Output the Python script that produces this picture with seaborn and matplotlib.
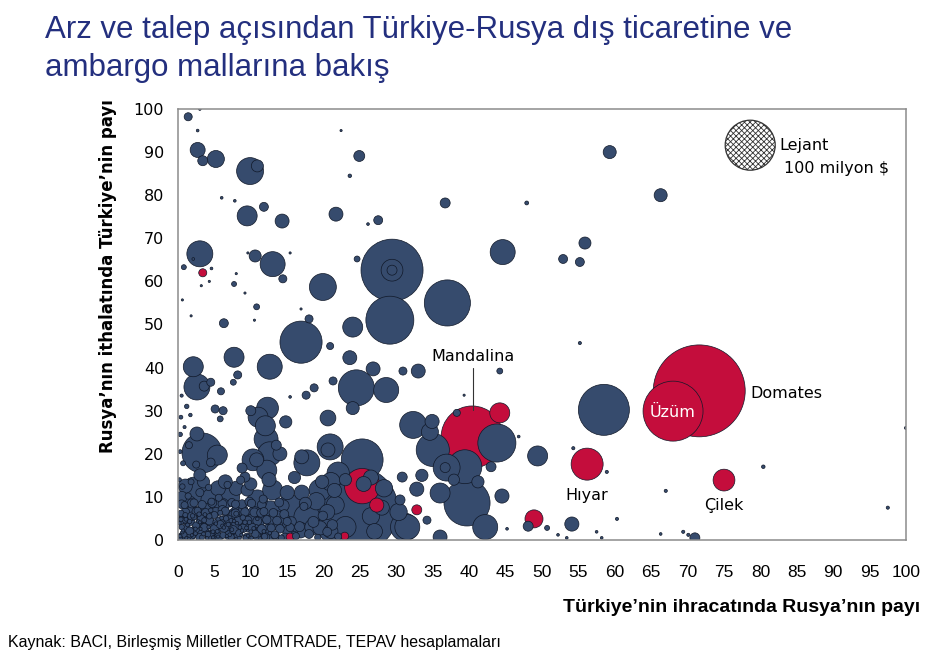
import matplotlib
matplotlib.use("Agg")
import matplotlib.pyplot as plt
import numpy as np
import pandas as pd
import seaborn as sns

# ------------------------------------------------------------
# Data: x = Turkey export share to Russia (%),
# y = Russia import share from Turkey (%), trade = bubble size (million $)
# ------------------------------------------------------------
# embargo goods (red)
embargo_x = [71.6, 68.0, 40.4, 56.2, 75.0, 44.2, 48.9, 25.3, 27.3, 32.8, 22.9, 15.4, 3.4]
embargo_y = [34.6, 29.9, 23.9, 17.6, 13.9, 29.5, 4.9, 12.5, 8.1, 7.0, 0.9, 0.7, 62.0]
embargo_trade = [338, 144, 154, 41, 19, 16, 13, 50, 8, 4, 2.5, 2.5, 2.6]

# other goods (navy) - large and medium bubbles
other_x = [
    58.5, 29.4, 29.4, 29.4, 29.1, 37.0, 16.9, 39.7, 43.8, 39.4, 35.0, 32.3, 34.6,
    36.9, 42.2, 44.5, 49.4, 48.1, 54.1, 71.0, 44.6, 59.3, 66.3, 55.9, 52.9, 55.2,
    36.7, 24.9, 24.3, 25.3, 3.3, 24.5, 28.6, 19.9, 13.0, 9.9, 10.9, 3.0, 12.6,
    7.7, 2.1, 2.6, 24.0, 17.7, 17.0, 20.6, 20.9, 31.1, 31.5, 30.5, 32.8, 30.8,
    12.1, 12.6, 11.0, 12.3, 12.0, 10.8, 14.0, 5.4, 10.3, 12.2, 2.3, 4.8, 7.1,
    10.9, 13.0, 15.4, 17.7, 8.1, 19.5, 21.6, 16.8, 19.5, 14.7, 12.6, 9.5, 14.3,
    21.7, 2.7, 5.2, 9.5, 23.6, 26.8, 24.0, 20.6, 33.0, 36.0, 34.2, 36.0, 1.4,
    3.4, 11.8, 27.5, 36.7, 6.3, 10.6, 14.4, 18.0, 10.8, 21.0, 22.0, 6.5, 9.2,
    3.0, 26.5, 28.3, 34.9, 37.9, 41.2, 43.0, 30.3, 23.0, 27.0, 25.5, 33.5,
]
other_y = [
    30.2, 62.6, 62.6, 62.6, 51.0, 55.0, 45.9, 8.6, 22.5, 17.0, 20.9, 26.7, 25.1,
    16.8, 3.0, 10.2, 19.5, 3.2, 3.7, 0.5, 66.8, 90.0, 80.0, 68.9, 65.2, 64.5,
    78.2, 89.1, 7.0, 18.6, 20.2, 35.3, 34.8, 58.7, 64.0, 85.6, 86.8, 66.4, 40.2,
    42.4, 40.2, 35.5, 49.4, 17.9, 19.3, 20.9, 21.6, 3.0, 3.0, 9.3, 11.8, 14.6,
    23.4, 20.0, 28.5, 30.6, 26.5, 18.6, 20.0, 19.7, 18.6, 16.2, 11.6, 9.3, 10.0,
    9.3, 11.6, 7.0, 5.3, 5.3, 11.6, 8.1, 2.3, 2.8, 4.2, 6.3, 11.6, 74.0,
    75.6, 90.5, 88.4, 75.2, 42.3, 39.7, 30.6, 28.3, 39.2, 0.7, 4.6, 10.9, 98.2,
    88.0, 77.3, 74.2, 16.8, 50.3, 65.9, 60.6, 51.3, 54.1, 13.5, 15.5, 13.5, 14.6,
    15.1, 14.5, 12.0, 27.5, 14.0, 13.5, 17.0, 6.5, 3.0, 2.0, 13.0, 15.0,
]
other_trade = [
    104, 154, 19, 4, 92, 85, 71, 85, 58, 46, 44, 29, 11.6,
    29, 25, 8, 16, 4, 8, 4, 25, 6.8, 6.8, 5.8, 3.2, 3.2,
    4, 4.8, 300, 70, 64, 52, 25, 29, 25, 29, 5.8, 27, 25,
    16, 16, 27, 16, 27, 7.8, 7.8, 27, 31, 25, 4, 8, 4,
    23, 23, 16, 19, 16, 7.8, 7.8, 16, 19, 16, 27, 23, 16,
    16, 16, 36, 27, 16, 19, 13, 10, 8, 8, 23, 6, 7.8,
    7.8, 9, 11.6, 16, 7.8, 7.8, 6.8, 10, 7.8, 7.8, 2.6, 16, 2.6,
    4, 3.2, 3.2, 4, 3.2, 5.8, 2.6, 2.6, 1.4, 14, 20, 7.8, 4,
    5.8, 9, 12, 8, 5, 6, 4, 12, 18, 10, 9, 6,
]

# other goods (navy) - the crowded low-share corner
fill_x = [
    1.5, 3.5, 6.0, 8.5, 10.5, 13.5, 15.5, 18.5, 20.5, 21.5, 19.0, 17.0, 15.0, 9.0,
    6.0, 3.0, 1.0, 11.0, 13.0, 4.5, 7.5, 1.0, 3.5, 5.5, 8.0, 10.0, 12.5, 0.5,
    2.0, 16.0, 23.0, 21.0, 17.5, 14.5, 19.8, 26.5, 28.0, 0.3, 0.7, 1.3, 1.9,
    2.4, 3.0, 3.5, 4.2, 4.8, 5.4, 6.1, 6.7, 7.4, 8.1, 8.7, 9.4, 10.1, 10.8,
    0.4, 1.0, 1.6, 2.2, 2.9, 3.6, 4.3, 5.1, 5.8, 6.6, 7.3, 8.0, 8.9, 9.8,
]
fill_y = [
    8.5, 6.5, 8.0, 7.0, 6.0, 5.0, 2.5, 3.0, 6.5, 11.5, 9.0, 11.0, 11.0, 3.5,
    4.0, 3.0, 5.0, 1.5, 0.5, 1.0, 1.5, 12.5, 13.5, 12.0, 12.0, 13.0, 14.0, 10.0,
    7.0, 14.5, 14.0, 2.0, 8.5, 8.0, 13.5, 5.5, 7.5, 0.9, 2.2, 3.5, 1.1,
    2.6, 4.1, 1.4, 3.0, 0.6, 2.0, 3.3, 0.9, 2.4, 3.9, 1.2, 2.8, 0.5, 3.2,
    4.8, 5.8, 4.3, 5.3, 6.0, 4.6, 5.5, 4.2, 6.3, 5.0, 4.5, 6.1, 5.2, 4.1,
]
fill_trade = [
    9, 10, 9, 10, 9, 10, 9, 10, 9, 8, 12, 9, 8, 6,
    6, 5, 5, 6, 6, 5, 5, 8, 6, 9, 8, 6, 8, 5,
    4, 6, 6, 8, 6, 5, 7, 12, 9, 0.5, 0.4, 0.6, 0.4,
    0.5, 0.4, 0.6, 0.5, 0.4, 0.6, 0.5, 0.4, 0.6, 0.5, 0.4, 0.6, 0.5, 0.4,
    0.8, 1.0, 0.8, 1.2, 0.8, 1.0, 1.2, 0.8, 1.0, 1.2, 0.8, 1.0, 1.2, 0.8,
]

# other goods (navy) - the packed carpet of products at x 0-16, y 0-9
carpet_x = [
    0.5, 1.8, 3.0, 4.4, 5.6, 7.0, 8.2, 9.5, 10.8, 12.0, 13.4, 14.7, 16.0,
    1.1, 2.4, 3.7, 5.0, 6.3, 7.6, 8.9, 10.2, 11.5, 12.8, 14.0, 15.4,
    0.4, 1.7, 3.1, 4.3, 5.7, 6.9, 8.3, 9.6, 10.9, 12.2, 13.6, 15.0,
    1.0, 2.5, 3.8, 5.2, 6.5, 7.9, 9.2, 10.5, 11.8, 13.1,
    0.5, 1.9, 3.3, 4.7, 6.1, 7.4, 8.8, 10.1, 11.5,
]
carpet_y = [
    0.8, 1.0, 0.6, 0.9, 0.7, 1.1, 0.8, 0.6, 1.0, 0.7, 0.9, 0.6, 1.0,
    2.7, 2.5, 2.9, 2.6, 2.8, 2.4, 2.7, 2.9, 2.5, 2.8, 2.6, 2.9,
    4.6, 4.4, 4.7, 4.5, 4.3, 4.8, 4.5, 4.6, 4.4, 4.7, 4.5, 4.3,
    6.4, 6.6, 6.3, 6.5, 6.7, 6.2, 6.5, 6.4, 6.6, 6.3,
    8.3, 8.5, 8.2, 8.6, 8.4, 8.7, 8.3, 8.5, 8.2,
]
carpet_trade = [
    2.4, 3.0, 2.6, 3.2, 2.8, 3.4, 2.6, 3.0, 2.8, 3.2, 2.6, 3.0, 2.8,
    3.0, 2.6, 3.4, 2.8, 3.2, 2.6, 3.0, 2.8, 3.4, 2.6, 3.0, 2.8,
    2.8, 3.2, 2.6, 3.0, 3.4, 2.8, 3.0, 2.6, 3.2, 2.8, 3.0, 2.6,
    3.2, 2.8, 3.0, 3.4, 2.6, 3.0, 2.8, 3.2, 2.6, 3.0,
    3.0, 3.4, 2.8, 3.2, 3.0, 2.6, 3.2, 2.8, 3.0,
]

# other goods (navy) - small bubbles and dots
small_x = [
    0.3, 0.8, 1.2, 1.6, 0.5, 2.1, 2.5, 1.0, 2.9, 3.3, 3.6, 0.4, 1.9, 2.7, 4.1,
    4.4, 3.2, 4.9, 5.3, 5.0, 5.8, 6.2, 6.5, 0.9, 2.2, 3.8, 4.6, 6.1, 7.0, 7.3,
    7.6, 8.1, 8.4, 8.9, 9.3, 9.7, 10.2, 10.6, 11.1, 11.4, 11.9, 12.3, 12.8, 13.3,
    13.7, 14.2, 14.6, 15.1, 15.6, 16.2, 16.7, 17.3, 18.0, 18.6, 19.2, 19.9, 20.5,
    21.2, 22.0, 1.4, 3.0, 0.6, 5.6, 7.9, 9.8, 11.7, 13.9, 0.2, 1.8, 0.7, 0.3,
    0.9, 0.4, 1.2, 0.5, 1.7, 0.3, 6.8, 8.6, 4.2, 0.6, 1.5, 2.4, 3.1, 4.0, 4.8,
    5.5, 6.3, 7.1, 8.0, 8.8, 9.6, 10.4, 11.3, 0.2, 1.1, 2.0, 2.8, 3.7, 4.5, 5.2,
    6.0, 6.9, 7.7, 8.5, 9.2, 10.0, 10.9, 11.8, 12.6,
    3.0, 2.7, 6.0, 7.8, 22.4, 23.6, 26.1, 47.9, 0.8, 2.1, 4.6, 4.3, 3.2, 9.6,
    15.4, 8.0, 7.7, 9.2, 10.5, 0.6, 1.8, 16.9, 24.6, 21.3, 18.7, 17.6, 15.4,
    3.6, 4.5, 5.9, 8.2, 7.6, 5.1, 6.2, 5.8, 30.9, 38.3, 39.3, 44.2, 55.2, 20.9,
    80.4, 67.0, 58.9, 54.3, 60.3, 57.5, 58.2, 66.3, 69.4, 70.1, 52.2, 53.4, 50.7,
    45.2, 46.8, 97.5, 100.0, 2.6, 1.5, 4.5, 2.5, 8.8, 13.5, 14.8, 10.0,
]
small_y = [
    0.5, 1.2, 0.4, 2.1, 3.0, 0.9, 3.4, 4.6, 1.8, 0.6, 2.9, 6.2, 5.5, 6.8, 1.3,
    4.0, 4.9, 0.5, 2.4, 5.8, 3.6, 1.1, 4.8, 8.1, 8.6, 7.4, 8.9, 7.0, 2.5, 0.7,
    5.9, 3.8, 1.6, 6.7, 0.5, 3.0, 5.0, 1.4, 3.6, 6.3, 0.8, 2.5, 4.7, 1.2,
    3.4, 0.5, 6.0, 2.0, 4.3, 0.9, 3.1, 7.8, 1.4, 4.2, 0.6, 5.6, 1.9,
    3.5, 0.8, 10.2, 11.0, 12.4, 9.8, 8.3, 8.9, 9.5, 8.7, 14.0, 13.5, 17.8, 24.5,
    26.2, 28.5, 31.0, 33.5, 29.0, 20.5, 12.8, 13.9, 12.2, 1.8, 0.3, 1.5, 2.6, 0.4, 1.9,
    0.8, 2.9, 1.2, 0.3, 2.2, 1.0, 2.7, 0.4, 3.9, 4.8, 5.6, 4.3, 5.9, 6.9, 3.8,
    5.1, 3.6, 4.4, 2.9, 4.1, 1.9, 4.9, 2.0, 1.6,
    100.0, 95.0, 79.4, 78.7, 95.0, 84.5, 73.3, 78.2, 63.3, 65.2, 63.0, 60.0, 59.0, 66.6,
    66.6, 61.8, 59.4, 57.3, 51.0, 55.7, 52.0, 53.6, 65.2, 36.9, 35.3, 33.6, 33.2,
    35.7, 36.6, 34.5, 38.3, 36.6, 30.4, 30.0, 28.1, 39.2, 29.5, 33.6, 39.2, 45.7, 45.0,
    17.0, 11.4, 15.8, 21.3, 4.9, 1.9, 0.5, 1.4, 1.9, 1.2, 1.2, 0.5, 2.8,
    2.6, 24.0, 7.5, 26.0, 24.6, 22.0, 18.0, 17.5, 16.7, 22.0, 27.4, 30.0,
]
small_trade = [
    1.0, 1.6, 0.6, 2.5, 1.2, 0.8, 2.0, 1.4, 3.2, 1.0, 2.5, 1.6, 3.0, 2.0, 1.4,
    3.2, 2.6, 0.8, 3.6, 2.0, 2.5, 1.6, 3.2, 2.0, 2.6, 3.6, 2.0, 3.0, 4.0, 1.6,
    3.2, 4.4, 2.0, 3.6, 1.2, 4.0, 3.6, 2.5, 4.4, 3.0, 1.6, 3.6, 4.0, 2.5,
    4.0, 1.4, 3.2, 4.4, 3.6, 2.0, 4.0, 2.6, 3.2, 4.8, 1.6, 3.6, 3.2,
    4.4, 2.0, 1.6, 2.6, 1.2, 2.0, 2.6, 3.2, 2.6, 3.2, 0.6, 1.4, 1.0, 0.8,
    0.4, 0.6, 0.8, 0.4, 0.5, 0.6, 2.0, 2.6, 1.6, 0.5, 0.4, 0.6, 0.4, 0.5, 0.6,
    0.4, 0.5, 0.6, 0.4, 0.5, 0.4, 0.6, 0.4, 0.5, 0.6, 0.8, 0.5, 0.6, 0.8, 0.5,
    0.6, 0.8, 0.5, 0.6, 0.8, 0.6, 0.5, 0.6, 0.5,
    0.3, 0.3, 0.3, 0.3, 0.2, 0.5, 0.3, 0.6, 1.0, 0.3, 0.3, 0.2, 0.2, 0.2,
    0.2, 0.2, 1.0, 0.2, 0.2, 0.2, 0.2, 0.2, 1.4, 2.6, 2.6, 2.6, 0.3,
    4.0, 2.6, 2.0, 2.6, 1.4, 2.6, 2.6, 1.4, 2.6, 2.0, 0.2, 1.4, 0.4, 2.0,
    0.5, 0.4, 0.4, 0.4, 0.4, 0.3, 0.3, 0.3, 0.4, 0.4, 0.3, 0.3, 1.0,
    0.3, 0.3, 0.4, 0.4, 7.8, 2.0, 3.0, 2.0, 4.0, 4.0, 6.0, 4.0,
]

labels = {"Mandalina": (40.5, 42.5), "Domates": (78.6, 34.1), "Üzüm": (68.0, 29.7),
          "Hıyar": (56.2, 10.4), "Çilek": (75.0, 8.1)}
x_ticks = list(range(0, 101, 5))
y_ticks = list(range(0, 101, 10))

NAVY = "#364B6D"
RED = "#C40D3C"
TITLE_BLUE = "#232F7E"

df = pd.concat([
    pd.DataFrame({"x": embargo_x, "y": embargo_y, "trade": embargo_trade, "grp": "embargo"}),
    pd.DataFrame({"x": other_x, "y": other_y, "trade": other_trade, "grp": "other"}),
    pd.DataFrame({"x": fill_x, "y": fill_y, "trade": fill_trade, "grp": "other"}),
    pd.DataFrame({"x": carpet_x, "y": carpet_y, "trade": carpet_trade, "grp": "other"}),
    pd.DataFrame({"x": small_x, "y": small_y, "trade": small_trade, "grp": "other"}),
], ignore_index=True)
# larger bubbles first so small ones stay visible on top
df = df.sort_values("trade", ascending=False, kind="stable").reset_index(drop=True)

sns.set_style("white")
plt.rcParams["font.family"] = ["DejaVu Sans"]
plt.rcParams["text.color"] = "black"
plt.rcParams["xtick.labelcolor"] = "black"
plt.rcParams["ytick.labelcolor"] = "black"

fig = plt.figure(figsize=(9.34, 6.62), dpi=100)
ax = fig.add_axes([178 / 934, 122 / 662, 728 / 934, 431 / 662])

# 100 million $ -> 50 px diameter -> 36 pt -> s = 1296 (linear in area)
sns.scatterplot(data=df, x="x", y="y", hue="grp", size="trade",
                palette={"embargo": RED, "other": NAVY},
                sizes=(0, 1296 * 4), size_norm=(0, 400),
                edgecolor="#101828", linewidth=0.5, alpha=1.0,
                legend=False, ax=ax)

# legend bubble
plt.rcParams["hatch.linewidth"] = 0.6
ax.scatter([78.6], [91.6], s=1296, facecolor="white", edgecolor="#333333",
           hatch="xxxxxx", linewidth=0.9, zorder=5)
ax.text(82.6, 91.6, "Lejant", fontsize=11.5, va="center", ha="left")
ax.text(83.3, 86.3, "100 milyon $", fontsize=11.5, va="center", ha="left")

for name, (tx, ty) in labels.items():
    color = "white" if name == "Üzüm" else "black"
    ax.text(tx, ty, name, fontsize=11.5, color=color,
            ha="left" if name == "Domates" else "center", va="center", zorder=6)
ax.plot([40.5, 40.5], [39.8, 30.2], color="#333333", lw=0.8, zorder=6)

ax.set_xlim(0, 100)
ax.set_ylim(0, 100)
ax.set_xticks(x_ticks)
ax.set_yticks(y_ticks)
ax.set_xticklabels([str(t) for t in x_ticks], family=["Liberation Sans", "DejaVu Sans"],
                   fontsize=12.5)
ax.set_yticklabels([str(t) for t in y_ticks], fontsize=11.5)
ax.tick_params(axis="x", direction="out", length=5, width=1, color="#8C8C8C", pad=13)
ax.tick_params(axis="y", direction="out", length=5, width=1, color="#8C8C8C", pad=5)
for sp in ax.spines.values():
    sp.set_visible(True)
    sp.set_color("#8C8C8C")
    sp.set_linewidth(1.1)
ax.set_xlabel("")
ax.set_ylabel("")

fig.text(108 / 934, 1 - 276 / 662, "Rusya’nın ithalatında Türkiye’nin payı",
         rotation=90, ha="center", va="center", fontsize=12, fontweight="bold")
fig.text(920 / 934, 1 - 607 / 662, "Türkiye’nin ihracatında Rusya’nın payı",
         ha="right", va="center", fontsize=14, fontweight="bold",
         family=["Liberation Sans", "DejaVu Sans"])
fig.text(8 / 934, 1 - 643 / 662, "Kaynak: BACI, Birleşmiş Milletler COMTRADE, TEPAV hesaplamaları",
         ha="left", va="center", fontsize=11.5, family=["Liberation Sans", "DejaVu Sans"])
fig.text(45 / 934, 1 - 30 / 662, "Arz ve talep açısından Türkiye-Rusya dış ticaretine ve",
         ha="left", va="center", fontsize=22.5, color=TITLE_BLUE, family=["Liberation Sans", "DejaVu Sans"])
fig.text(45 / 934, 1 - 68 / 662, "ambargo mallarına bakış",
         ha="left", va="center", fontsize=22.5, color=TITLE_BLUE, family=["Liberation Sans", "DejaVu Sans"])

fig.savefig("out.png", dpi=100)
